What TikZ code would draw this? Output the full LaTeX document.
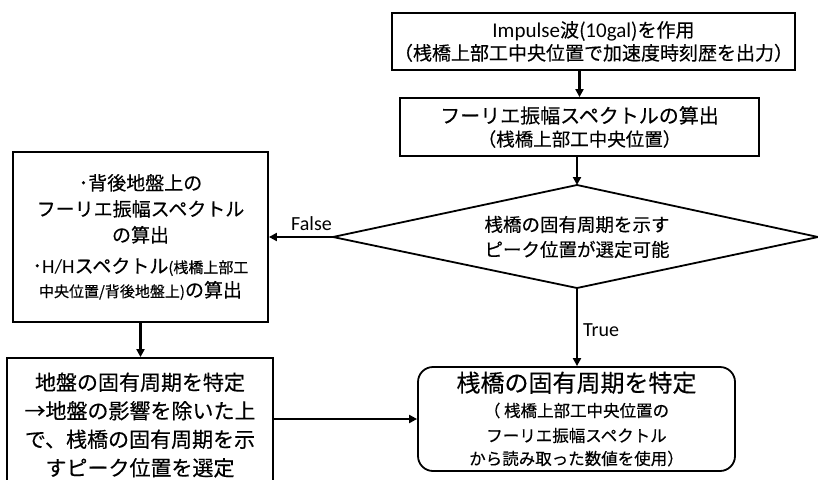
\documentclass[tikz,border=0pt]{standalone}
\usepackage{fontspec}
\setmainfont{Carlito}
\newfontfamily\jp{Noto Sans CJK JP}[FakeBold=0.3]
\usetikzlibrary{arrows.meta}
\newcommand\fs[2]{\fontsize{#1}{#2}\selectfont}
\newcommand\lat{\rmfamily}
\begin{document}
\begin{tikzpicture}[x=1pt,y=-1pt,
  box/.style={draw, line width=1.8pt, inner sep=0pt, align=center},
  arr/.style={line width=2.6pt, -{Triangle[length=8pt,width=8pt]}},
  lab/.style={font=\lat\fs{20}{24}, inner sep=0pt}]
\useasboundingbox (0,0) rectangle (818,479);

\node[box, font=\jp\fs{19}{23}, minimum width=403pt, minimum height=57pt] (b1) at (593.5,41.5)
  {{\lat\fs{21}{23}Impulse}波({\lat\fs{21}{23}10gal})を作用\\
   （桟橋上部工中央位置で加速度時刻歴を出力）};

\node[box, font=\jp\fs{20}{23}, minimum width=359pt, minimum height=58pt] (b2) at (579.5,127)
  {フーリエ振幅スペクトルの算出\\
   {\fs{18.5}{23}（桟橋上部工中央位置）}};

\coordinate (dT) at (577,185);
\coordinate (dR) at (818,237);
\coordinate (dB) at (577,288);
\coordinate (dL) at (333,237);
\draw[line width=1.8pt] (dT) -- (dR) -- (dB) -- (dL) -- cycle;
\node[font=\jp\fs{18.5}{25}, align=center, inner sep=0pt] (dt) at (577,237)
  {桟橋の固有周期を示す\\ピーク位置が選定可能};

\node[box, font=\jp\fs{19}{26}, minimum width=255pt, minimum height=170pt] (b3) at (140.5,237)
  {･背後地盤上の\\
   フーリエ振幅スペクトル\\
   の算出\\[5pt]
   ･{\lat\fs{20}{26}H/H}スペクトル{\fs{15}{26}(桟橋上部工}\\[-2pt]
   {\fs{15}{26}中央位置/背後地盤上)}の算出};

\node[box, font=\jp\fs{21}{28.5}, minimum width=266pt, minimum height=134pt] (b4) at (140,425)
  {地盤の固有周期を特定\\
   →地盤の影響を除いた上\\
   で、桟橋の固有周期を示\\
   すピーク位置を選定};

\node[box, font=\jp\fs{16.5}{25}, rounded corners=15pt, minimum width=317pt, minimum height=104pt] (b5) at (576.5,419)
  {{\fs{24}{27}桟橋の固有周期を特定}\\
   （ 桟橋上部工中央位置の\\
   フーリエ振幅スペクトル\\[-2pt]
   から読み取った数値を使用）};

\node[lab] (lf) at (311.5,224) {False};
\node[lab] (lt) at (601,330) {True};

\draw[arr] (b1.south -| b2.north) -- (b2.north);
\draw[arr] (b2.south -| dT) -- (dT);
\draw[arr] (dL) -- (b3.east);
\draw[arr] (dB) -- (b5.north -| dB);
\draw[arr] (b3.south) -- (b4.north -| b3.south);
\draw[arr] (b4.east |- b5.west) -- (b5.west);
\end{tikzpicture}
\end{document}
